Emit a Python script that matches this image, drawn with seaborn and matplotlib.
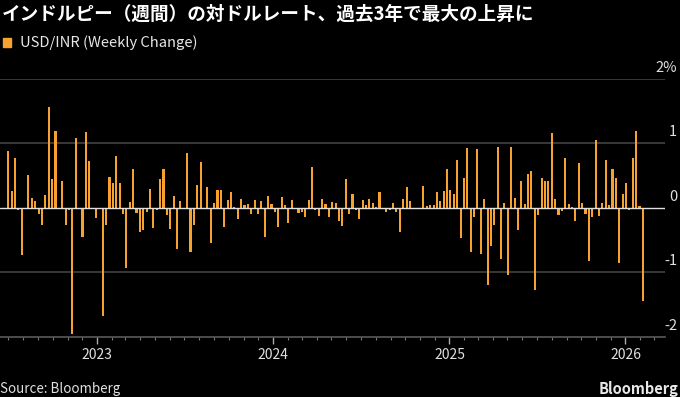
import pandas as pd
import numpy as np
import matplotlib
matplotlib.use("Agg")
import matplotlib.pyplot as plt
import matplotlib.dates as mdates
from matplotlib.patches import Rectangle
import seaborn as sns

# USD/INR weekly change (%), one bar per week ending friday
start_week = "2022-07-01"
chg_2022_23 = [0.89, 0.26, 0.78, -0.03, -0.73, -0.02, 0.51, 0.15, 0.10, -0.09, -0.27, 0.20,
               1.56, 0.44, 1.20, 0.0, 0.42, -0.27, -0.04, -1.96, 1.08, -0.02, -0.45, 1.18,
               0.72, 0.0, -0.16, 0.0, -1.68, -0.26, 0.48, 0.39, 0.80, 0.39, -0.10, -0.94,
               0.09, 0.60, -0.08, -0.37, -0.35, -0.06, 0.29, -0.32, -0.04, 0.45, 0.60, -0.11,
               -0.33, 0.19, -0.64, 0.11, 0.0, 0.85, -0.69, -0.26, 0.36, 0.71, 0.0, 0.32,
               -0.55, 0.07, 0.27, 0.27, -0.29, 0.12]
chg_2024 = [0.24, 0.02, -0.18, 0.14, 0.05, 0.06, -0.09, 0.12, -0.10, 0.10, -0.46, 0.18,
            0.06, -0.06, -0.29, 0.17, 0.05, -0.23, 0.12, -0.02, -0.08, -0.06, -0.14, 0.12,
            0.64, -0.03, -0.13, 0.14, 0.06, -0.14, 0.09, 0.07, -0.20, -0.28, 0.44, -0.10,
            0.21, -0.03, -0.18, 0.12, 0.04, 0.14, 0.07, 0.02, 0.24, 0.0, -0.06, -0.04,
            0.08, -0.06, -0.38, 0.14, 0.32, 0.11, 0.0, 0.0, 0.0, 0.34, 0.03, 0.05,
            0.04, 0.24, 0.11, 0.26, 0.60]
chg_2025_26 = [0.27, 0.22, 0.74, -0.47, 0.47, 0.93, -0.69, -0.14, 0.92, -0.72, 0.13, -1.20,
               -0.60, -0.27, 0.95, -0.79, 0.08, -1.04, 0.95, 0.16, -0.35, 0.42, 0.06, 0.53,
               0.57, -1.27, -0.11, 0.47, 0.41, 0.41, 1.16, 0.14, -0.11, -0.05, 0.77, 0.06,
               0.01, -0.21, 0.69, 0.07, -0.10, -0.82, -0.14, 1.05, -0.12, 0.08, 0.75, 0.05,
               0.60, 0.47, -0.85, 0.22, 0.38, -0.04, 0.77, 1.20, 0.03, -1.44]

y_ticks = [-2, -1, 0, 1, 2]
y_labels = ["-2", "-1", "0", "1", "2%"]

title = "インドルピー（週間）の対ドルレート、過去3年で最大の上昇に"
legend_label = "USD/INR (Weekly Change)"

orange = "#F7A12F"

weekly_chg = chg_2022_23 + chg_2024 + chg_2025_26
weeks = pd.date_range(start_week, periods=len(weekly_chg), freq="7D")
df = pd.DataFrame({"week": mdates.date2num(weeks), "chg": weekly_chg})

sns.set_theme(style="dark", rc={"axes.facecolor": "black", "figure.facecolor": "black"})
plt.rcParams['font.family'] = ['Noto Sans CJK JP', 'DejaVu Sans']

fig = plt.figure(figsize=(6.8, 3.97), dpi=100)
ax = fig.add_axes([0.0, 0.152, 0.978, 0.649])

sns.barplot(data=df, x="week", y="chg", native_scale=True, width=0.62, color=orange,
            saturation=1, linewidth=0, errorbar=None, ax=ax, zorder=2)

# grid lines
for v in [2, 1, -1]:
    ax.axhline(v, color="#3d3d3d", lw=1.3, zorder=0)
ax.axhline(0, color="#e0e0e0", lw=1.0, zorder=3)

ax.set_ylim(-2, 2)
ax.set_xlim(mdates.date2num(pd.Timestamp("2022-06-14")), mdates.date2num(pd.Timestamp("2026-03-24")))
ax.set_xlabel("")
ax.set_ylabel("")
ax.set_yticks([])
for s in ["top", "left", "right"]:
    ax.spines[s].set_visible(False)
ax.spines["bottom"].set_color("#5a5a5a")
ax.spines["bottom"].set_linewidth(1.2)

ax.xaxis.set_major_locator(mdates.YearLocator())
ax.xaxis.set_major_formatter(mdates.DateFormatter("%Y"))
ax.xaxis.set_minor_locator(mdates.MonthLocator())
ax.tick_params(axis="x", which="major", bottom=True, length=5, width=1, color="#aaaaaa",
               labelcolor="#e0e0e0", labelsize=10, pad=3)
ax.tick_params(axis="x", which="minor", bottom=True, length=2.5, width=0.8, color="#777777")

# y labels sit right of the plot, above each grid line
for v, lab in zip(y_ticks, y_labels):
    ax.annotate(lab, xy=(1, v), xycoords=("axes fraction", "data"), xytext=(8.8, 8),
                textcoords="offset points", ha="right", va="center", color="#e0e0e0", fontsize=10.5)

fig.text(0.003, 1 - 14 / 397, title, fontsize=13.4, fontweight="bold", color="white", va="center")
fig.patches.append(Rectangle((3 / 680, 1 - 47 / 397), 8 / 680, 9 / 397, transform=fig.transFigure,
                             color=orange, figure=fig))
fig.text(20 / 680, 1 - 43 / 397, legend_label, fontsize=10.6, color="#e8e8e8", va="center")
fig.text(0.0, 1 - 389 / 397, "Source: Bloomberg", fontsize=9.6, color="#e0e0e0", va="center")
fig.text(678 / 680, 1 - 389 / 397, "Bloomberg", fontsize=10.5, fontweight="bold", color="#e8e8e8",
         va="center", ha="right")

fig.savefig("out.png", dpi=100, facecolor="black")
